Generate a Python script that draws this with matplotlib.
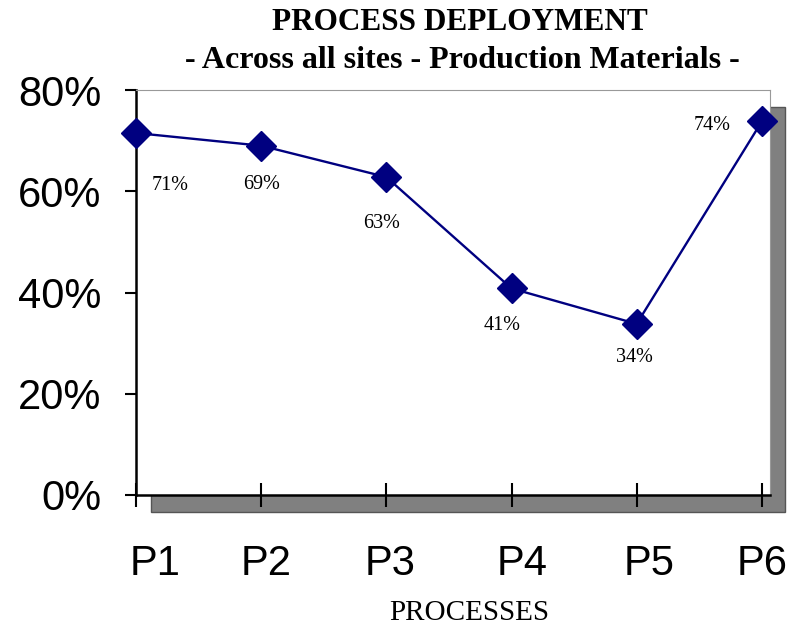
import matplotlib
matplotlib.use('Agg')
import matplotlib.pyplot as plt
import matplotlib.transforms as mtransforms
from matplotlib.patches import Rectangle
from matplotlib.ticker import FuncFormatter

processes = ['P1', 'P2', 'P3', 'P4', 'P5', 'P6']
deployment = [0.715, 0.69, 0.628, 0.408, 0.338, 0.738]
labels = ['71%', '69%', '63%', '41%', '34%', '74%']

fig = plt.figure(figsize=(7.87, 6.28), dpi=100)
W, H = 787, 628
left, right, bottom, top = 136, 770, 495, 90
ax = fig.add_axes([left / W, (H - bottom) / H, (right - left) / W, (bottom - top) / H])

# drop shadow behind the plot area
shadow = Rectangle(((left + 15) / W, (H - bottom - 17) / H), (right - left) / W, (bottom - top) / H,
                   transform=fig.transFigure, facecolor='#808080', edgecolor='#555555',
                   linewidth=1, zorder=0)
fig.patches.append(shadow)
ax.set_zorder(1)
ax.set_facecolor('white')

x = list(range(len(processes)))
ax.plot(x, deployment, color='#000080', linewidth=1.7, marker='D', markersize=15,
        markerfacecolor='#000080', markeredgecolor='#000080', clip_on=False, zorder=3)

# label offsets in pixels from the marker
offsets = [(34, -52), (0, -39), (-5, -46), (-9, -37), (-2, -34), (-50, -4)]
for xi, yi, lab, (dx, dy) in zip(x, deployment, labels, offsets):
    ax.annotate(lab, (xi, yi), xytext=(dx * 0.72, dy * 0.72), textcoords='offset points',
                ha='center', va='center', fontsize=14.5, family='Liberation Serif')

ax.set_xlim(0, 5.065)
ax.set_ylim(0, 0.8)
ax.set_yticks([0, 0.2, 0.4, 0.6, 0.8])
ax.yaxis.set_major_formatter(FuncFormatter(lambda v, p: '{:.0f}%'.format(v * 100)))
ax.set_xticks(x)
ax.set_xticklabels(processes)

for lab in ax.get_xticklabels() + ax.get_yticklabels():
    lab.set_family('Liberation Sans')
    lab.set_fontsize(30)

ax.tick_params(axis='y', direction='out', length=8, width=1.5, pad=17)
ax.tick_params(axis='x', direction='inout', length=17, width=1.5, pad=27)

# shift category labels a little, as in the original
shifts = [19, 5, 4, 11, 12, 0]
for lab, s in zip(ax.get_xticklabels(), shifts):
    lab.set_transform(lab.get_transform() + mtransforms.ScaledTranslation(s / 100, 0, fig.dpi_scale_trans))

ax.spines['left'].set_linewidth(1.8)
ax.spines['bottom'].set_linewidth(1.8)
ax.spines['top'].set_color('#999999')
ax.spines['right'].set_color('#999999')

fig.text(469 / W, 1 - 613 / H, 'PROCESSES', ha='center', va='center',
         family='Liberation Serif', fontsize=21)
fig.text(460 / W, 1 - 22 / H, 'PROCESS DEPLOYMENT', ha='center', va='center',
         family='Liberation Serif', fontweight='bold', fontsize=22.5)
fig.text(462 / W, 1 - 60 / H, '- Across all sites - Production Materials -', ha='center', va='center',
         family='Liberation Serif', fontweight='bold', fontsize=23)

fig.savefig('out.png', dpi=100)
